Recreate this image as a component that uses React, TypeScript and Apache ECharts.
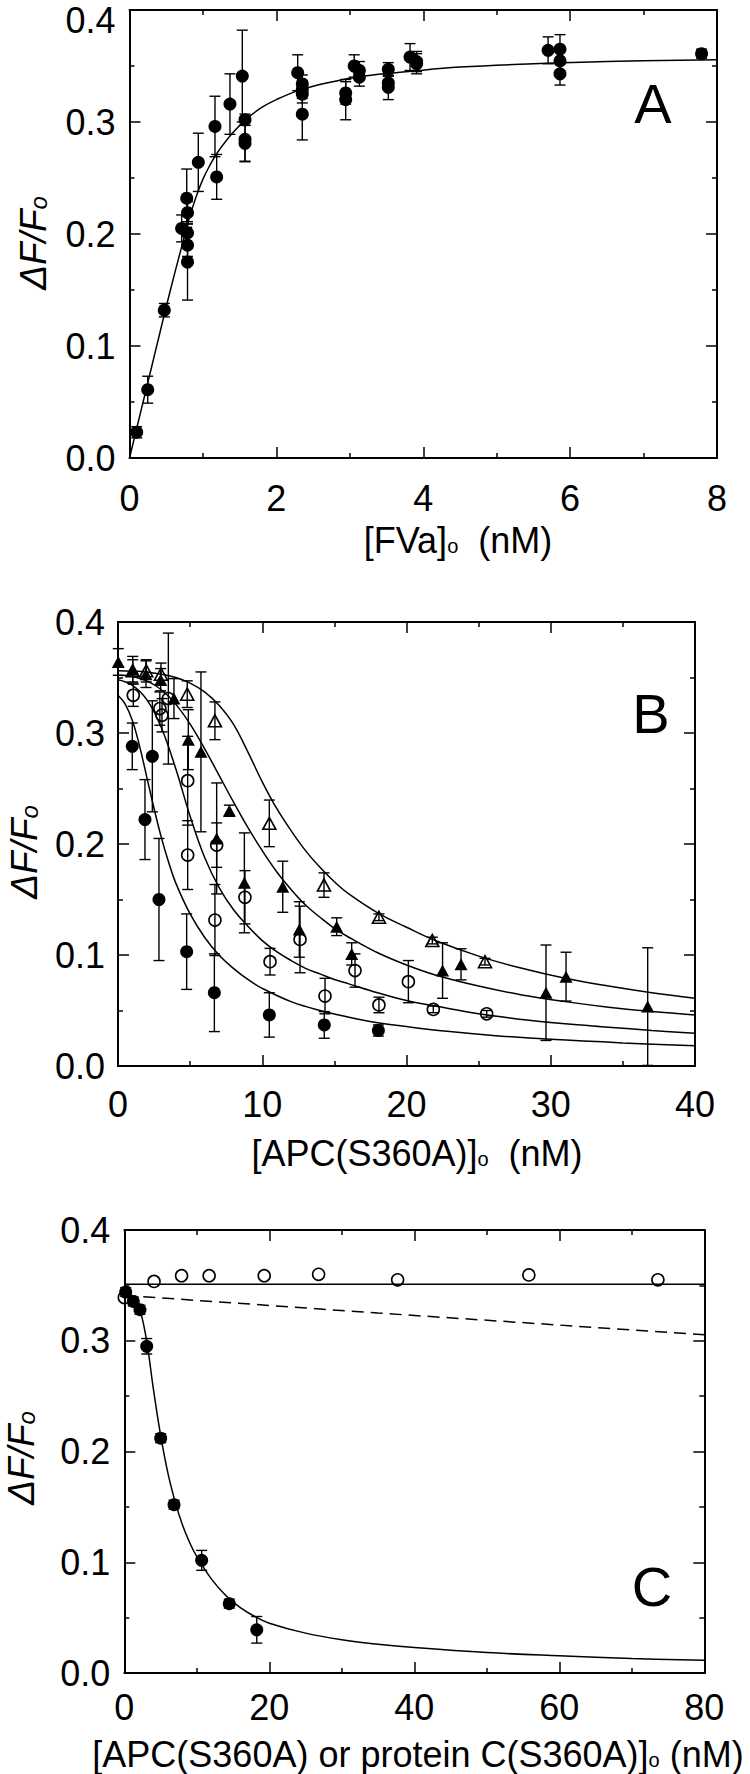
import React, { useEffect, useRef } from 'react';
import * as echarts from 'echarts';

const FONT = '"Liberation Sans", Arial, Helvetica, sans-serif';

// ---------- Panel A : [FVa]o titration ----------
const aX = [0.098, 0.248, 0.474, 0.71, 0.779, 0.79, 0.79, 0.79, 0.79, 0.937, 1.164, 1.187, 1.368, 1.536, 1.573, 1.573, 1.573, 2.29, 2.353, 2.353, 2.353, 2.353, 2.944, 2.944, 3.06, 3.13, 3.13, 3.524, 3.524, 3.524, 3.82, 3.91, 3.91, 5.70, 5.862, 5.862, 5.862, 7.79];
const aY = [0.023, 0.061, 0.132, 0.205, 0.232, 0.219, 0.201, 0.19, 0.175, 0.264, 0.296, 0.251, 0.316, 0.341, 0.302, 0.2845, 0.281, 0.344, 0.334, 0.329, 0.325, 0.307, 0.326, 0.320, 0.35, 0.346, 0.34, 0.347, 0.335, 0.331, 0.358, 0.354, 0.352, 0.364, 0.365, 0.3545, 0.343, 0.361];
const aErr = [0.005, 0.012, 0.006, 0.012, 0.026, 0.01, 0.01, 0.01, 0.034, 0.026, 0.027, 0.02, 0.027, 0.041, 0.005, 0.02, 0.016, 0.016, 0.008, 0.008, 0.008, 0.023, 0.01, 0.018, 0.01, 0.008, 0.008, 0.006, 0.006, 0.011, 0.012, 0.009, 0.009, 0.012, 0.013, 0.01, 0.01, 0.004];
const aFitX = [0, 0.1, 0.2, 0.3, 0.4, 0.5, 0.6, 0.7, 0.8, 0.9, 1.0, 1.1, 1.2, 1.4, 1.6, 1.8, 2.0, 2.3, 2.7, 3.2, 3.8, 4.5, 5.5, 6.5, 8];
const aFitY = [0, 0.027, 0.054, 0.081, 0.108, 0.135, 0.161, 0.186, 0.211, 0.232, 0.249, 0.262, 0.273, 0.29, 0.303, 0.313, 0.32, 0.328, 0.335, 0.341, 0.345, 0.349, 0.352, 0.354, 0.3555];

// ---------- Panel B : [APC(S360A)]o titrations ----------
const bFcX = [0.99, 1.87, 2.38, 2.84, 4.76, 6.68, 10.49, 14.3, 18.05];
const bFcY = [0.288, 0.222, 0.279, 0.150, 0.103, 0.066, 0.046, 0.037, 0.032];
const bFcErr = [0.021, 0.036, 0.05, 0.055, 0.034, 0.035, 0.02, 0.012, 0.005];

const bOcX = [1.06, 2.9, 3.05, 3.49, 4.83, 4.83, 6.84, 6.72, 8.8, 10.54, 12.62, 14.35, 16.43, 18.09, 20.13, 21.86, 25.56];
const bOcY = [0.334, 0.322, 0.316, 0.331, 0.257, 0.19, 0.199, 0.1315, 0.152, 0.094, 0.114, 0.063, 0.086, 0.055, 0.076, 0.051, 0.047];
const bOcErr = [0.01, 0.015, 0.015, 0.059, 0.04, 0.031, 0.02, 0.032, 0.024, 0.012, 0.03, 0.016, 0.015, 0.007, 0.019, 0.003, 0.003];

const bFtX = [0.02, 1.02, 1.94, 2.96, 3.88, 4.875, 5.75, 6.84, 7.72, 8.76, 11.42, 12.57, 15.16, 16.2, 22.5, 23.78, 29.67, 31.06, 36.72];
const bFtY = [0.364, 0.357, 0.353, 0.348, 0.331, 0.294, 0.283, 0.205, 0.23, 0.165, 0.1615, 0.123, 0.1255, 0.101, 0.086, 0.0916, 0.066, 0.0805, 0.0535];
const bFtErr = [0.012, 0.012, 0.012, 0.01, 0.018, 0.027, 0.072, 0.05, 0.005, 0.045, 0.023, 0.025, 0.008, 0.01, 0.025, 0.014, 0.043, 0.022, 0.053];

const bOtX = [1.02, 1.96, 2.98, 4.8, 6.72, 10.49, 14.28, 18.09, 21.79, 25.44];
const bOtY = [0.356, 0.356, 0.353, 0.335, 0.311, 0.2186, 0.163, 0.134, 0.113, 0.094];
const bOtErr = [0.01, 0.01, 0.01, 0.012, 0.017, 0.021, 0.011, 0.003, 0.003, 0.003];

const bFitOtX = [0, 1, 2, 3, 4, 5, 6, 7, 8, 9, 10, 11, 12, 13, 14, 15, 16, 18, 20, 22, 25, 28, 31, 34, 37, 40];
const bFitOtY = [0.356, 0.3557, 0.355, 0.353, 0.35, 0.345, 0.337, 0.325, 0.308, 0.283, 0.256, 0.232, 0.212, 0.194, 0.179, 0.166, 0.155, 0.138, 0.125, 0.113, 0.099, 0.088, 0.079, 0.072, 0.066, 0.061];
const bFitFtX = [0, 1, 2, 3, 4, 5, 6, 7, 8, 9, 10, 11, 12, 13, 14, 15, 16, 18, 20, 22, 25, 28, 31, 34, 37, 40];
const bFitFtY = [0.352, 0.351, 0.347, 0.339, 0.326, 0.308, 0.286, 0.262, 0.238, 0.215, 0.194, 0.175, 0.159, 0.145, 0.134, 0.124, 0.116, 0.102, 0.091, 0.082, 0.072, 0.064, 0.058, 0.053, 0.049, 0.046];
const bFitOcX = [0, 1, 2, 3, 4, 5, 6, 7, 8, 9, 10, 11, 12, 13, 14, 15, 16, 18, 20, 22, 25, 28, 31, 34, 37, 40];
const bFitOcY = [0.348, 0.343, 0.33, 0.305, 0.268, 0.225, 0.188, 0.161, 0.141, 0.126, 0.113, 0.103, 0.095, 0.088, 0.083, 0.078, 0.074, 0.066, 0.059, 0.054, 0.047, 0.042, 0.038, 0.035, 0.032, 0.0295];
const bFitFcX = [0, 0.5, 1, 1.5, 2, 2.5, 3, 3.5, 4, 5, 6, 7, 8, 9, 10, 12, 14, 16, 18, 20, 23, 26, 30, 35, 40];
const bFitFcY = [0.334, 0.326, 0.311, 0.288, 0.26, 0.232, 0.206, 0.184, 0.165, 0.137, 0.116, 0.1, 0.088, 0.078, 0.07, 0.058, 0.05, 0.044, 0.039, 0.0355, 0.031, 0.0275, 0.024, 0.0208, 0.0183];

// ---------- Panel C : APC(S360A) vs protein C(S360A) ----------
const cFcX = [0.19, 1.24, 2.16, 3.09, 5.02, 6.86, 10.67, 14.48, 18.27];
const cFcY = [0.344, 0.3355, 0.328, 0.295, 0.212, 0.152, 0.1017, 0.0626, 0.039];
const cFcErr = [0.004, 0.004, 0.004, 0.007, 0.004, 0.004, 0.009, 0.004, 0.012];
const cOcX = [0.0, 4.1, 7.9, 11.7, 19.3, 26.8, 37.7, 55.8, 73.6];
const cOcY = [0.339, 0.3536, 0.3587, 0.3587, 0.3587, 0.36, 0.355, 0.3594, 0.355];
const cFitX = [0, 1, 2, 3, 4, 5, 6, 7, 8, 9, 10, 12, 14, 16, 18, 20, 25, 30, 35, 40, 50, 60, 70, 80];
const cFitY = [0.345, 0.341, 0.331, 0.303, 0.257, 0.215, 0.181, 0.155, 0.134, 0.118, 0.105, 0.085, 0.07, 0.059, 0.051, 0.045, 0.036, 0.03, 0.026, 0.023, 0.0185, 0.0155, 0.013, 0.0115];
const cFlatX = [0, 80];
const cFlatY = [0.351, 0.351];
const cDashX = [0, 35, 80];
const cDashY = [0.341, 0.325, 0.3055];

const xTicksA = { min: 0, max: 8, interval: 2 };
const xTicksB = { min: 0, max: 40, interval: 10 };
const xTicksC = { min: 0, max: 80, interval: 20 };
const yTicks = { min: 0, max: 0.4, interval: 0.1 };

const zip2 = (xs: number[], ys: number[]) => xs.map((x, i) => [x, ys[i]]);
const zip3 = (xs: number[], ys: number[], es: number[]) => xs.map((x, i) => [x, ys[i], es[i]]);

function makeAxis(t: { min: number; max: number; interval: number }, gridIndex: number, position: string, showLabel: boolean, isY: boolean, margin: number, showMax = true) {
  return {
    type: 'value',
    gridIndex,
    position,
    min: t.min,
    max: t.max,
    interval: t.interval,
    axisLine: { show: true, onZero: false, lineStyle: { color: '#000', width: 2 } },
    axisTick: { show: true, inside: true, length: 11, lineStyle: { color: '#000', width: 1.5 } },
    minorTick: { show: true, splitNumber: 2, length: 5, lineStyle: { color: '#000', width: 1.5 } },
    splitLine: { show: false },
    minorSplitLine: { show: false },
    axisLabel: {
      show: showLabel,
      showMaxLabel: showMax,
      margin,
      color: '#000',
      fontSize: 36,
      fontFamily: FONT,
      formatter: (v: number) => (isY ? v.toFixed(1) : String(Math.round(v))),
    },
  };
}

function errRender(capHalf: number) {
  return (params: any, api: any) => {
    const x = api.value(0);
    const y = api.value(1);
    const e = api.value(2);
    const top = api.coord([x, y + e]);
    const bot = api.coord([x, y - e]);
    const style = { stroke: '#000', lineWidth: 1.4 };
    return {
      type: 'group',
      children: [
        { type: 'line', shape: { x1: top[0], y1: top[1], x2: bot[0], y2: bot[1] }, style },
        { type: 'line', shape: { x1: top[0] - capHalf, y1: top[1], x2: top[0] + capHalf, y2: top[1] }, style },
        { type: 'line', shape: { x1: bot[0] - capHalf, y1: bot[1], x2: bot[0] + capHalf, y2: bot[1] }, style },
      ],
    };
  };
}

function errSeries(data: number[][], axisIdx: number) {
  return {
    type: 'custom',
    xAxisIndex: axisIdx,
    yAxisIndex: axisIdx,
    renderItem: errRender(5.5),
    data,
    encode: { x: 0, y: 1 },
    z: 3,
    silent: true,
  };
}

function fitSeries(data: number[][], axisIdx: number, dashed = false, smooth: any = 0.4) {
  return {
    type: 'line',
    xAxisIndex: axisIdx,
    yAxisIndex: axisIdx,
    data,
    showSymbol: false,
    symbol: 'none',
    smooth,
    lineStyle: { color: '#000', width: 1.5, type: dashed ? [12, 7] : 'solid' },
    z: 2,
    silent: true,
  };
}

function scatterSeries(data: number[][], axisIdx: number, symbol: string, open: boolean, size: number | number[]) {
  return {
    type: 'scatter',
    xAxisIndex: axisIdx,
    yAxisIndex: axisIdx,
    data,
    symbol,
    symbolSize: size,
    itemStyle: open
      ? { color: 'rgba(255,255,255,0)', borderColor: '#000', borderWidth: 1.6, opacity: 1 }
      : { color: '#000', borderColor: '#000', borderWidth: 0, opacity: 1 },
    z: 4,
    silent: true,
  };
}

const yTitle = (x: number, y: number) => ({
  type: 'text',
  x,
  y,
  rotation: Math.PI / 2,
  silent: true,
  style: {
    text: '{m|ΔF/F}{s|o}',
    align: 'center',
    verticalAlign: 'middle',
    textAlign: 'center',
    textVerticalAlign: 'middle',
    fill: '#000',
    rich: {
      m: { fontSize: 37, fontStyle: 'italic', fontFamily: FONT, fill: '#000', lineHeight: 34 },
      s: { fontSize: 24, fontStyle: 'italic', fontFamily: FONT, fill: '#000', lineHeight: 16, verticalAlign: 'bottom' },
    },
  },
});

const xTitle = (x: number, y: number, pre: string, post: string) => ({
  type: 'text',
  x,
  y,
  silent: true,
  style: {
    text: `{m|${pre}}{s|o}{m|${post}}`,
    align: 'center',
    verticalAlign: 'middle',
    textAlign: 'center',
    textVerticalAlign: 'middle',
    fill: '#000',
    rich: {
      m: { fontSize: 36, fontFamily: FONT, fill: '#000', lineHeight: 32 },
      s: { fontSize: 20, fontFamily: FONT, fill: '#000', lineHeight: 12, verticalAlign: 'bottom' },
    },
  },
});

const plainText = (x: number, y: number, t: string, size: number, align: string) => ({
  type: 'text',
  x,
  y,
  silent: true,
  style: {
    text: t,
    align,
    verticalAlign: 'middle',
    textAlign: align,
    textVerticalAlign: 'middle',
    fill: '#000',
    fontSize: size,
    fontFamily: FONT,
  },
});

export default function App() {
  const ref = useRef<HTMLDivElement>(null);
  useEffect(() => {
    if (!ref.current) return;
    const chart = echarts.init(ref.current, undefined, { renderer: 'svg' });
    const option: any = {
      animation: false,
      backgroundColor: '#fff',
      grid: [
        { left: 129.5, top: 10, width: 587.5, height: 448, containLabel: false, outerBoundsMode: 'none' },
        { left: 118, top: 622, width: 577, height: 444, containLabel: false, outerBoundsMode: 'none' },
        { left: 124.3, top: 1230, width: 580, height: 443, containLabel: false, outerBoundsMode: 'none' },
      ],
      xAxis: [
        makeAxis(xTicksA, 0, 'bottom', true, false, 22),
        makeAxis(xTicksA, 0, 'top', false, false, 8),
        makeAxis(xTicksB, 1, 'bottom', true, false, 20),
        makeAxis(xTicksB, 1, 'top', false, false, 8),
        makeAxis(xTicksC, 2, 'bottom', true, false, 16),
        makeAxis(xTicksC, 2, 'top', false, false, 8),
      ],
      yAxis: [
        makeAxis(yTicks, 0, 'left', true, true, 14, false),
        makeAxis(yTicks, 0, 'right', false, true, 8),
        makeAxis(yTicks, 1, 'left', true, true, 13),
        makeAxis(yTicks, 1, 'right', false, true, 8),
        makeAxis(yTicks, 2, 'left', true, true, 14),
        makeAxis(yTicks, 2, 'right', false, true, 8),
      ],
      series: [
        // Panel A
        fitSeries(zip2(aFitX, aFitY), 0),
        errSeries(zip3(aX, aY, aErr), 0),
        scatterSeries(zip2(aX, aY), 0, 'circle', false, 13),
        // Panel B
        fitSeries(zip2(bFitOtX, bFitOtY), 2),
        fitSeries(zip2(bFitFtX, bFitFtY), 2),
        fitSeries(zip2(bFitOcX, bFitOcY), 2),
        fitSeries(zip2(bFitFcX, bFitFcY), 2),
        errSeries(zip3(bFcX, bFcY, bFcErr), 2),
        errSeries(zip3(bOcX, bOcY, bOcErr), 2),
        errSeries(zip3(bFtX, bFtY, bFtErr), 2),
        errSeries(zip3(bOtX, bOtY, bOtErr), 2),
        scatterSeries(zip2(bFcX, bFcY), 2, 'circle', false, 13),
        scatterSeries(zip2(bOcX, bOcY), 2, 'circle', true, 12),
        scatterSeries(zip2(bFtX, bFtY), 2, 'triangle', false, [13, 12]),
        scatterSeries(zip2(bOtX, bOtY), 2, 'triangle', true, [13, 12]),
        // Panel C
        fitSeries(zip2(cFitX, cFitY), 4),
        fitSeries(zip2(cFlatX, cFlatY), 4, false, false),
        fitSeries(zip2(cDashX, cDashY), 4, true, false),
        errSeries(zip3(cFcX, cFcY, cFcErr), 4),
        scatterSeries(zip2(cOcX, cOcY), 4, 'circle', true, 12),
        scatterSeries(zip2(cFcX, cFcY), 4, 'circle', false, 13),
      ],
      graphic: [
        plainText(653, 103, 'A', 56, 'center'),
        plainText(651, 713, 'B', 56, 'center'),
        plainText(652, 1586, 'C', 56, 'center'),
        plainText(115.5, 20, '0.4', 36, 'right'),
        xTitle(458, 540, '[FVa]', '\u00a0\u00a0(nM)'),
        xTitle(417, 1153, '[APC(S360A)]', '\u00a0\u00a0(nM)'),
        xTitle(418, 1754, '[APC(S360A) or protein C(S360A)]', ' (nM)'),
        yTitle(33, 243),
        yTitle(24, 852),
        yTitle(21, 1458),
      ],
    };
    chart.setOption(option);
    return () => chart.dispose();
  }, []);
  return (
    <div
      ref={ref}
      style={{ position: 'absolute', left: 0, top: 0, width: 750, height: 1774, background: '#fff' }}
    />
  );
}
